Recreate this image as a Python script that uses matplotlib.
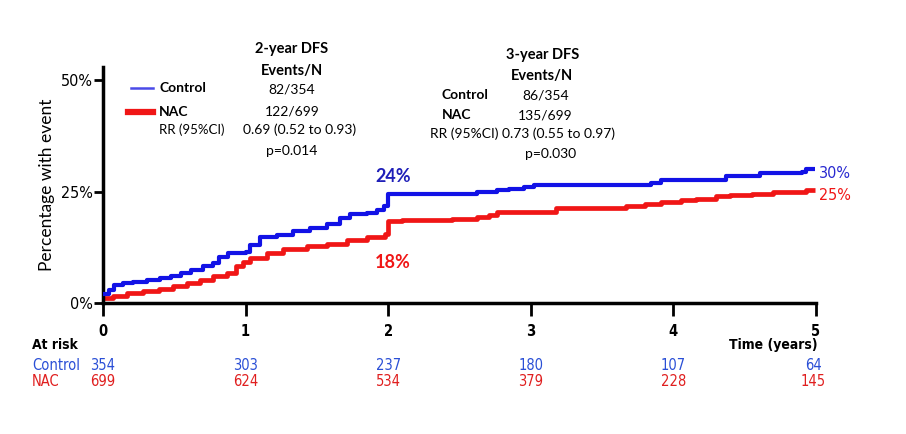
import matplotlib
matplotlib.use("Agg")
import matplotlib.pyplot as plt

# Kaplan-Meier style cumulative incidence
ctrl_t = [0, 0.04, 0.08, 0.14, 0.21, 0.31, 0.40, 0.48, 0.55, 0.62, 0.70, 0.77, 0.81,
          0.88, 1.0, 1.03, 1.10, 1.22, 1.33, 1.45, 1.57, 1.66, 1.73, 1.85, 1.92,
          1.97, 2.0, 2.62, 2.70, 2.76, 2.85, 2.95, 3.02, 3.81, 3.84, 3.91, 4.37,
          4.61, 4.90, 4.93, 4.99]
ctrl_pct = [2.0, 3.0, 4.1, 4.5, 4.8, 5.2, 5.6, 6.0, 6.8, 7.4, 8.2, 8.9, 10.4,
            11.2, 11.5, 13.0, 14.7, 15.3, 16.2, 16.9, 17.7, 19.0, 19.9, 20.1, 20.9,
            21.8, 24.5, 24.8, 25.0, 25.3, 25.6, 26.0, 26.4, 26.5, 27.0, 27.6, 28.4,
            29.1, 29.4, 30.1, 30.1]

nac_t = [0, 0.07, 0.17, 0.28, 0.39, 0.49, 0.59, 0.68, 0.77, 0.87, 0.93, 0.98, 1.03,
         1.15, 1.26, 1.43, 1.57, 1.71, 1.85, 1.98, 2.0, 2.10, 2.25, 2.45, 2.62,
         2.71, 2.76, 3.09, 3.18, 3.50, 3.67, 3.80, 3.91, 4.05, 4.16, 4.30, 4.40,
         4.55, 4.70, 4.85, 4.93, 4.99]
nac_pct = [1.1, 1.5, 2.2, 2.6, 3.1, 3.9, 4.5, 5.2, 6.1, 6.8, 8.2, 9.3, 10.2,
           11.2, 12.1, 12.7, 13.2, 14.2, 14.9, 15.4, 18.3, 18.5, 18.7, 18.9, 19.3,
           19.8, 20.3, 20.5, 21.2, 21.4, 21.7, 22.1, 22.6, 23.0, 23.4, 23.9, 24.2,
           24.4, 24.8, 25.0, 25.4, 25.4]

years = [0, 1, 2, 3, 4, 5]
risk_ctrl = [354, 303, 237, 180, 107, 64]
risk_nac = [699, 624, 534, 379, 228, 145]
yticks = [0, 25, 50]
ytick_labels = ["0%", "25%", "50%"]

BLUE = "#1212e6"
RED = "#f01616"
TAB_BLUE = "#2a4fd6"
TAB_RED = "#e01f1f"
MAIN = ["Lato", "DejaVu Sans"]
NARROW_KW = dict(family=["DejaVu Sans"], fontstretch="condensed")

W, H = 906, 434
fig = plt.figure(figsize=(W / 100, H / 100), dpi=100)
ax = fig.add_axes([103 / W, 1 - 303 / H, (816 - 103) / W, (303 - 67) / H])

ax.step(ctrl_t, ctrl_pct, where="post", color=BLUE, lw=3.0, solid_capstyle="butt", zorder=3)
ax.step(nac_t, nac_pct, where="post", color=RED, lw=3.4, solid_capstyle="butt", zorder=2)

ax.set_xlim(0, 5)
ax.set_ylim(0, 50 * (303 - 67) / (303 - 80))
ax.set_xticks(years)
ax.set_xticklabels([str(y) for y in years], fontweight="bold", fontsize=10.5, **NARROW_KW)
ax.set_yticks(yticks)
ax.set_yticklabels(ytick_labels, fontsize=11.5, **NARROW_KW)
ax.tick_params(axis="x", direction="out", length=9, width=2, pad=6)
ax.tick_params(axis="y", direction="out", length=6.5, width=2, pad=1)
for s in ["top", "right"]:
    ax.spines[s].set_visible(False)
for s in ["left", "bottom"]:
    ax.spines[s].set_linewidth(2.5)
ax.set_ylabel("Percentage with event", family=MAIN, fontsize=12.5)
ax.yaxis.set_label_coords(-0.068, 0.5)


def ftext(x, y, s, **kw):
    kw.setdefault("family", MAIN)
    kw.setdefault("va", "center")
    fig.text(x / W, 1 - y / H, s, **kw)


# legend
fig.lines.append(plt.Line2D([131 / W, 153 / W], [1 - 88 / H] * 2, color="#4a4ae8", lw=1.8,
                            transform=fig.transFigure))
fig.lines.append(plt.Line2D([128 / W, 153 / W], [1 - 112 / H] * 2, color=RED, lw=4.5,
                            transform=fig.transFigure))
ftext(159, 88, "Control", fontsize=10, fontweight="bold")
ftext(159, 112, "NAC", fontsize=10, fontweight="bold")
ftext(159, 130, "RR (95%CI)", fontsize=9.5)

# 2-year block
ftext(292, 49, "2-year DFS", fontsize=10.5, fontweight="bold", ha="center")
ftext(292, 71, "Events/N", fontsize=10.5, fontweight="bold", ha="center")
ftext(292, 89, "82/354", fontsize=10, ha="center")
ftext(292, 112, "122/699", fontsize=10, ha="center")
ftext(300, 130, "0.69 (0.52 to 0.93)", fontsize=10, ha="center")
ftext(292, 151, "p=0.014", fontsize=10, ha="center")

# 3-year block
ftext(543, 55, "3-year DFS", fontsize=10.5, fontweight="bold", ha="center")
ftext(542, 76, "Events/N", fontsize=10.5, fontweight="bold", ha="center")
ftext(442, 95, "Control", fontsize=10, fontweight="bold")
ftext(546, 95, "86/354", fontsize=10, ha="center")
ftext(442, 115, "NAC", fontsize=10, fontweight="bold")
ftext(545, 115, "135/699", fontsize=10, ha="center")
ftext(522, 134, "RR (95%CI) 0.73 (0.55 to 0.97)", fontsize=10, ha="center")
ftext(551, 154, "p=0.030", fontsize=10, ha="center")

# curve annotations
ftext(393, 176, "24%", fontsize=13, fontweight="bold", ha="center", color="#1f1fb8")
ftext(393, 262, "18%", fontsize=13, fontweight="bold", ha="center", color=RED)
ftext(819, 173, "30%", fontsize=11.5, color="#2828d0", **NARROW_KW)
ftext(819, 195, "25%", fontsize=11.5, color=RED, **NARROW_KW)

# at-risk table
ftext(32, 345, "At risk", fontsize=10, fontweight="bold", **NARROW_KW)
ftext(818, 345, "Time (years)", fontsize=10, fontweight="bold", ha="right", **NARROW_KW)
ftext(32, 366, "Control", fontsize=10.5, color=TAB_BLUE, **NARROW_KW)
ftext(32, 382, "NAC", fontsize=10.5, color=TAB_RED, **NARROW_KW)
for yr, rc, rn in zip(years, risk_ctrl, risk_nac):
    xp = 103 + yr * (816 - 103) / 5
    if yr == 5:
        xp -= 3
    ftext(xp, 366, str(rc), fontsize=10.5, color=TAB_BLUE, ha="center", **NARROW_KW)
    ftext(xp, 382, str(rn), fontsize=10.5, color=TAB_RED, ha="center", **NARROW_KW)

fig.savefig("out.png", dpi=100)
